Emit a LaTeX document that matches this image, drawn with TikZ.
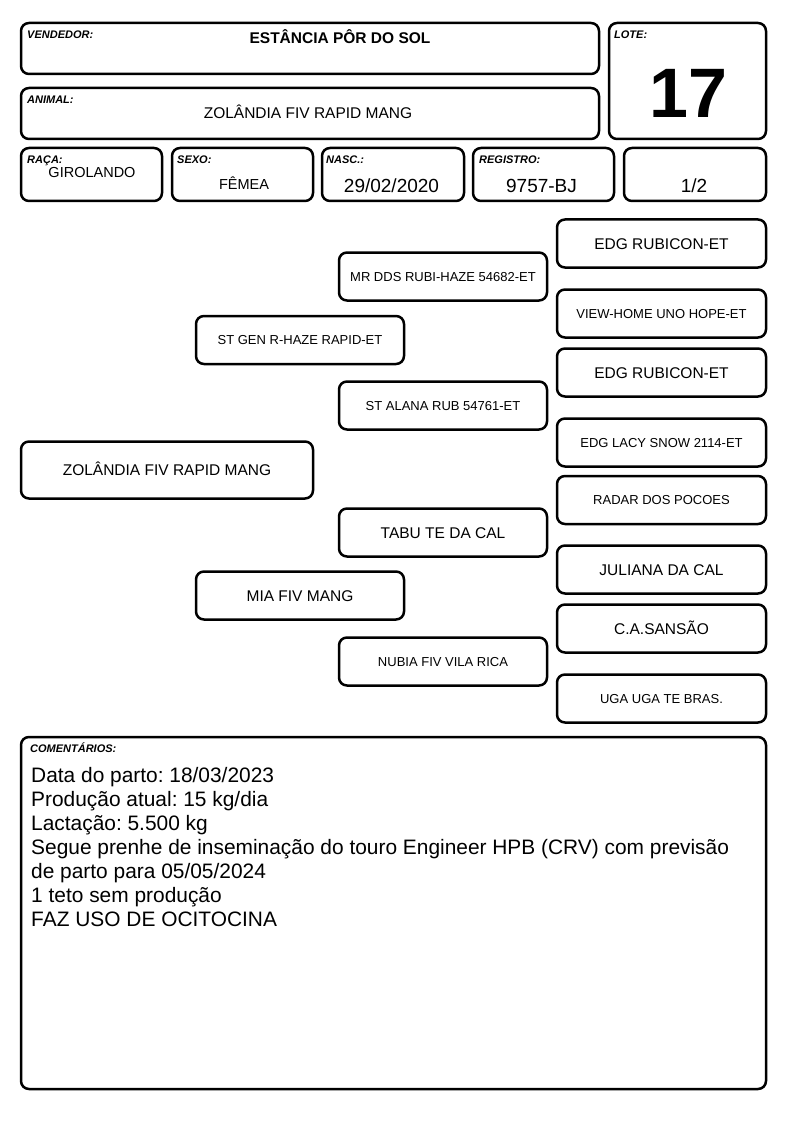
\documentclass[tikz,border=0pt]{standalone}
\usepackage{fontspec}
\setmainfont{Liberation Sans}
\frenchspacing
\newcommand\fsz[1]{\fontsize{#1}{#1}\selectfont}
\begin{document}
\begin{tikzpicture}[x=1pt,y=-1pt,
 box/.style={draw=black, line width=2.5pt, rounded corners=8pt, inner sep=0pt},
 lbl/.style={anchor=base west, inner sep=0pt, font=\fsz{11}\bfseries\itshape},
 val/.style={anchor=base, inner sep=0pt},
 pbox/.style={box, minimum width=208pt, minimum height=48pt, text depth=0pt, align=center},
 bigt/.style={font=\fsz{15.5}, text height=11.1pt},
 smallt/.style={font=\fsz{13}, text height=9.3pt},
 com/.style={anchor=base west, inner sep=0pt, font=\fsz{20.9}}]
\useasboundingbox[fill=white] (0,0) rectangle (794,1123);
% header
\node[box, minimum width=578pt, minimum height=51pt] (vend) at (310,48.5) {};
\node[lbl] (vendl) at (27,39) {VENDEDOR:};
\node[val, font=\fsz{15.5}\bfseries] (vendv) at (340,44) {ESTÂNCIA PÔR DO SOL};
\node[box, minimum width=578pt, minimum height=51pt] (anim) at (310,113.5) {};
\node[lbl] (animl) at (27,104) {ANIMAL:};
\node[val, font=\fsz{15.5}] (animv) at (308,119) {ZOLÂNDIA FIV RAPID MANG};
\node[box, minimum width=157pt, minimum height=116pt] (lote) at (687.5,81) {};
\node[lbl] (lotel) at (614,39) {LOTE:};
\node[val, font=\fsz{70}\bfseries] (lotev) at (688.5,118) {17};
% bottom row
\node[box, minimum width=141pt, minimum height=53pt] (raca) at (91.5,174.5) {};
\node[box, minimum width=141pt, minimum height=53pt] (sexo) at (242.5,174.5) {};
\node[box, minimum width=142pt, minimum height=53pt] (nasc) at (393,174.5) {};
\node[box, minimum width=141pt, minimum height=53pt] (reg) at (543.5,174.5) {};
\node[box, minimum width=142pt, minimum height=53pt] (frac) at (695,174.5) {};
\node[lbl] (racal) at (27,164) {RAÇA:};
\node[lbl] (sexol) at (177,164) {SEXO:};
\node[lbl] (nascl) at (326,164) {NASC.:};
\node[lbl] (regl) at (479,164) {REGISTRO:};
\node[val, font=\fsz{14.5}] (racav) at (92,178) {GIROLANDO};
\node[val, font=\fsz{14.5}] (sexov) at (244,190) {FÊMEA};
\node[val, font=\fsz{19}] (nascv) at (391.5,193) {29/02/2020};
\node[val, font=\fsz{19}] (regv) at (541.5,193) {9757-BJ};
\node[val, font=\fsz{19}] (fracv) at (694,193) {1/2};
% pedigree
\node[pbox, bigt, minimum width=292pt, minimum height=57pt] (p0) at (167,470) {ZOLÂNDIA FIV RAPID MANG};
\node[pbox, smallt] (p1) at (300,340) {ST GEN R-HAZE RAPID-ET};
\node[pbox, bigt] (p2) at (300,595.5) {MIA FIV MANG};
\node[pbox, smallt] (p3) at (443,276.5) {MR DDS RUBI-HAZE 54682-ET};
\node[pbox, smallt] (p4) at (443,405.5) {ST ALANA RUB 54761-ET};
\node[pbox, bigt] (p5) at (443,532.5) {TABU TE DA CAL};
\node[pbox, smallt] (p6) at (443,661.5) {NUBIA FIV VILA RICA};
\node[pbox, bigt, minimum width=209pt] (p7) at (661.5,243.5) {EDG RUBICON-ET};
\node[pbox, smallt, minimum width=209pt] (p8) at (661.5,313.5) {VIEW-HOME UNO HOPE-ET};
\node[pbox, bigt, minimum width=209pt] (p9) at (661.5,372.5) {EDG RUBICON-ET};
\node[pbox, smallt, minimum width=209pt] (p10) at (661.5,442.5) {EDG LACY SNOW 2114-ET};
\node[pbox, smallt, minimum width=209pt] (p11) at (661.5,500) {RADAR DOS POCOES};
\node[pbox, bigt, minimum width=209pt] (p12) at (661.5,569.5) {JULIANA DA CAL};
\node[pbox, bigt, minimum width=209pt] (p13) at (661.5,628.5) {C.A.SANSÃO};
\node[pbox, smallt, minimum width=209pt] (p14) at (661.5,698.5) {UGA UGA TE BRAS.};
% comments
\node[box, minimum width=745pt, minimum height=352pt] (coms) at (393.5,913) {};
\node[lbl] (comsl) at (30,752) {COMENTÁRIOS:};
\node[com] (c1) at (31,782) {Data do parto: 18/03/2023};
\node[com] (c2) at (31,806) {Produção atual: 15 kg/dia};
\node[com] (c3) at (31,830) {Lactação: 5.500 kg};
\node[com] (c4) at (31,854) {Segue prenhe de inseminação do touro Engineer HPB (CRV) com previsão};
\node[com] (c5) at (31,878) {de parto para 05/05/2024};
\node[com] (c6) at (31,902) {1 teto sem produção};
\node[com] (c7) at (31,926) {FAZ USO DE OCITOCINA};
\end{tikzpicture}
\end{document}
